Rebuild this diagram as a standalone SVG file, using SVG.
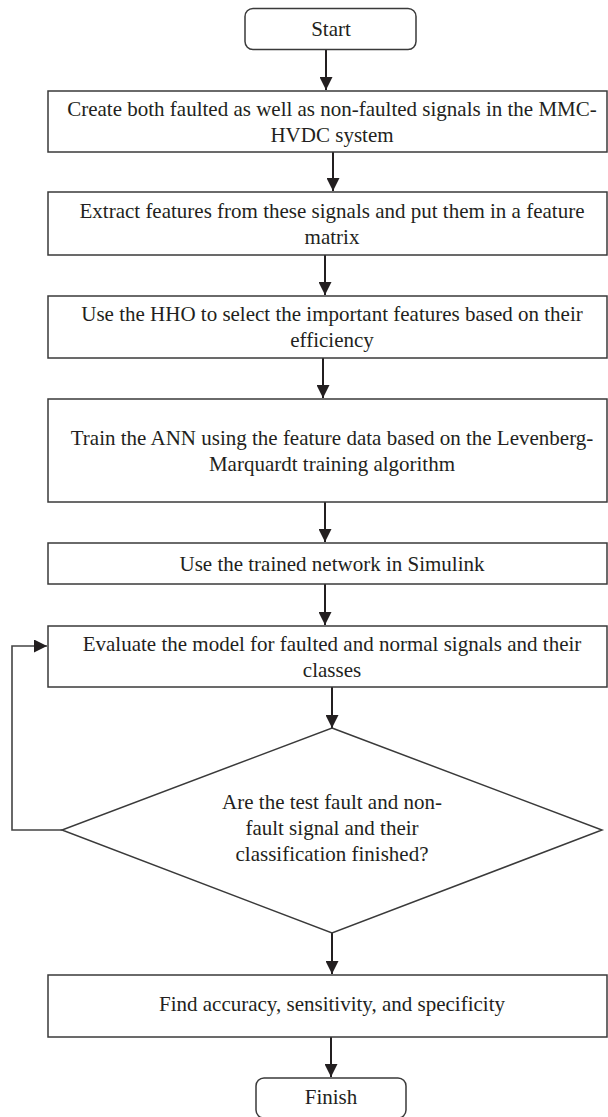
<svg xmlns="http://www.w3.org/2000/svg" width="608" height="1117" viewBox="0 0 608 1117">
<style>
.box{fill:#fff;stroke:#3a3a3a;stroke-width:1.5}
.t{font-family:"Liberation Serif","Times New Roman",serif;font-size:21px;fill:#231f20;text-anchor:middle}
.c{fill:none;stroke:#231f20;stroke-width:2}
</style>
<defs>
<marker id="ah" viewBox="0 0 10 10" refX="10" refY="5" markerUnits="userSpaceOnUse" markerWidth="13" markerHeight="13" orient="auto">
<path d="M0,0 L10,5 L0,10 z" fill="#231f20"/>
</marker>
</defs>
<g id="connectors">
<path class="c" d="M326,49 V90" marker-end="url(#ah)"/>
<path class="c" d="M333,152 V191" marker-end="url(#ah)"/>
<path class="c" d="M325,255 V295" marker-end="url(#ah)"/>
<path class="c" d="M323,358 V398" marker-end="url(#ah)"/>
<path class="c" d="M325,502 V542" marker-end="url(#ah)"/>
<path class="c" d="M325,584 V625" marker-end="url(#ah)"/>
<path class="c" d="M332,687 V728" marker-end="url(#ah)"/>
<path class="c" d="M332,933 V974" marker-end="url(#ah)"/>
<path class="c" d="M331,1037 V1077" marker-end="url(#ah)"/>
<path class="c" d="M62,830 H12 V646 H47" marker-end="url(#ah)" style="stroke:#444;stroke-width:1.6"/>
</g>
<g id="start">
<rect class="box" x="245" y="8.5" width="171" height="41" rx="8"/>
<text class="t" x="331" y="36">Start</text>
</g>
<g id="step1">
<rect class="box" x="48" y="91" width="559" height="61"/>
<text class="t" x="332" y="116">Create both faulted as well as non-faulted signals in the MMC-</text>
<text class="t" x="332" y="142">HVDC system</text>
</g>
<g id="step2">
<rect class="box" x="48" y="192" width="559" height="63"/>
<text class="t" x="332" y="217.5">Extract features from these signals and put them in a feature</text>
<text class="t" x="332" y="243.5">matrix</text>
</g>
<g id="step3">
<rect class="box" x="48" y="296" width="559" height="62"/>
<text class="t" x="332" y="320.5">Use the HHO to select the important features based on their</text>
<text class="t" x="332" y="346.5">efficiency</text>
</g>
<g id="step4">
<rect class="box" x="48" y="399" width="559" height="103"/>
<text class="t" x="332" y="444.5">Train the ANN using the feature data based on the Levenberg-</text>
<text class="t" x="332" y="470.5">Marquardt training algorithm</text>
</g>
<g id="step5">
<rect class="box" x="48" y="543" width="559" height="41"/>
<text class="t" x="332" y="570.5">Use the trained network in Simulink</text>
</g>
<g id="step6">
<rect class="box" x="48" y="626" width="559" height="61"/>
<text class="t" x="332" y="650.5">Evaluate the model for faulted and normal signals and their</text>
<text class="t" x="332" y="676.5">classes</text>
</g>
<g id="decision">
<polygon class="box" points="332,728 602,830 332,933 62,830"/>
<text class="t" x="332" y="809">Are the test fault and non-</text>
<text class="t" x="332" y="835">fault signal and their</text>
<text class="t" x="332" y="861">classification finished?</text>
</g>
<g id="step7">
<rect class="box" x="48" y="975" width="559" height="62"/>
<text class="t" x="332" y="1011">Find accuracy, sensitivity, and specificity</text>
</g>
<g id="finish">
<rect class="box" x="256" y="1078" width="150" height="40" rx="8"/>
<text class="t" x="331" y="1104">Finish</text>
</g>
</svg>
